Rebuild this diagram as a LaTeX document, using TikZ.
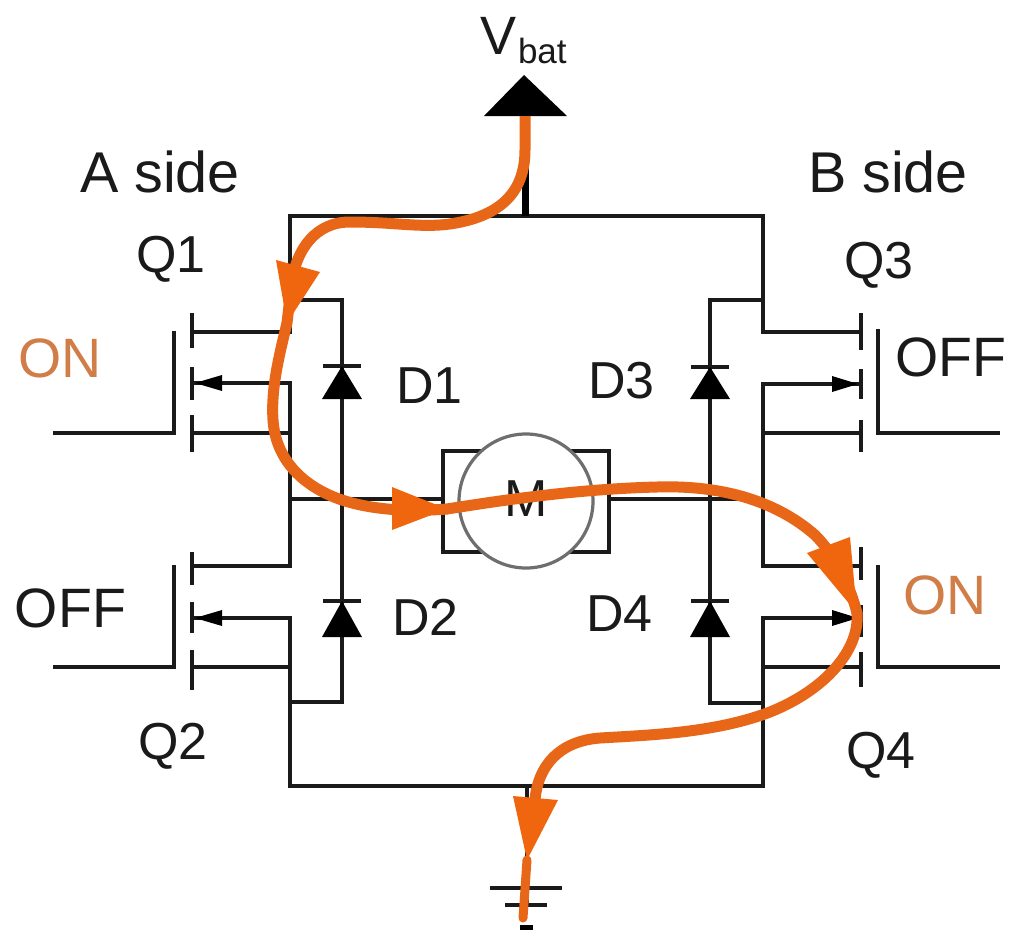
\documentclass[tikz,border=0pt]{standalone}
\usepackage{fontspec}
\setmainfont{Liberation Sans}
\definecolor{flow}{RGB}{232,102,24}
\definecolor{flowhead}{RGB}{240,102,14}
\definecolor{onlabel}{RGB}{208,125,72}
\definecolor{inkc}{RGB}{26,26,26}
\tikzset{
  wire/.style={draw=inkc,line width=3.3pt,line join=miter},
  label/.style={anchor=base west,inner sep=0pt,outer sep=0pt,text=inkc,font=\fontsize{52}{60}\selectfont},
  biglabel/.style={label,font=\fontsize{55.5}{60}\selectfont},
  onlab/.style={biglabel,text=onlabel},
  head/.style={fill=flowhead,draw=none},
  flowpath/.style={draw=flow,line width=11pt,line cap=round},
  solid tip/.style={fill=black,draw=none},
}
\begin{document}
\begin{tikzpicture}[x=1pt,y=-1pt]
\useasboundingbox (0,0) rectangle (1010,930);
\fill[white] (0,0) rectangle (1010,930);
% junction points
\coordinate (TL) at (290,216); \coordinate (TR) at (763,216);
\coordinate (BL) at (290,786); \coordinate (BR) at (763,786);
\coordinate (Vfoot) at (525,116); \coordinate (Vtop) at (525,216);
\coordinate (Gtop) at (527,786); \coordinate (Gend) at (527,905);
\coordinate (Q1d) at (290,332); \coordinate (Q1dc) at (192,332);
\coordinate (Q1s) at (290,383); \coordinate (Q1sc) at (192,383);
\coordinate (Q1b) at (290,433); \coordinate (Q1bc) at (192,433);
\coordinate (Q2d) at (290,566); \coordinate (Q2dc) at (192,566);
\coordinate (Q2s) at (290,618); \coordinate (Q2sc) at (192,618);
\coordinate (Q2b) at (290,667); \coordinate (Q2bc) at (192,667);
\coordinate (Q3d) at (763,332); \coordinate (Q3dc) at (861,332);
\coordinate (Q3s) at (763,384); \coordinate (Q3sc) at (861,384);
\coordinate (Q3b) at (763,433); \coordinate (Q3bc) at (861,433);
\coordinate (Q4d) at (763,566); \coordinate (Q4dc) at (861,566);
\coordinate (Q4s) at (763,618); \coordinate (Q4sc) at (861,618);
\coordinate (Q4b) at (763,667); \coordinate (Q4bc) at (861,667);
\coordinate (L1) at (290,300); \coordinate (L1d) at (342,300);
\coordinate (L2) at (290,702); \coordinate (L2d) at (342,702);
\coordinate (R1) at (763,300); \coordinate (R1d) at (710,300);
\coordinate (R2) at (763,703); \coordinate (R2d) at (710,703);
\coordinate (ML) at (290,499); \coordinate (MR) at (763,499);
% motor
\node[draw=inkc,line width=3.3pt,minimum width=166pt,minimum height=101pt,inner sep=0pt,outer sep=0pt] (mbox) at (526,501.5) {};
\node[circle,draw={rgb,255:red,110;green,110;blue,110},fill=white,line width=3.2pt,minimum size=134pt,inner sep=0pt,outer sep=0pt] (motor) at (526,501) {};
\node[label,anchor=base] (mlabel) at (526,516) {M};
% rails and branches
\draw[wire] (Q1dc) -- (Q1d) -- (TL) -- (TR) -- (Q3d) -- (Q3dc);
\draw[wire] (Q2sc) -- (Q2s) -- (BL) -- (BR) -- (Q4s) -- (Q4sc);
\draw[wire] (Q1sc) -- (Q1s) -- (Q2d) -- (Q2dc);
\draw[wire] (Q3sc) -- (Q3s) -- (Q4d) -- (Q4dc);
\draw[wire] (Q1bc) -- (Q1b);
\draw[wire] (Q2bc) -- (Q2b);
\draw[wire] (Q3bc) -- (Q3b);
\draw[wire] (Q4bc) -- (Q4b);
\draw[wire] (L1) -- (L1d) -- (L2d) -- (L2);
\draw[wire] (R1) -- (R1d) -- (R2d) -- (R2);
\draw[wire] (ML) -- (mbox.west |- ML);
\draw[wire] (mbox.east |- MR) -- (MR);
\draw[draw=black,line width=7pt] (Vfoot) -- (Vtop);
\draw[wire] (Gtop) -- (Gend);
% MOSFET channel segments and gates
\foreach \x/\a/\b in {192/313/348,192/367/400,192/415/452,192/552/585,192/602/633,192/650/690,861/313/350,861/369/399,861/420/452,861/547/580,861/605/637,861/652/687}
  \draw[wire] (\x,\a) -- (\x,\b);
\coordinate (G1a) at (174,331); \coordinate (G1b) at (174,433); \coordinate (G1c) at (53,433);
\coordinate (G2a) at (174,565); \coordinate (G2b) at (174,667); \coordinate (G2c) at (53,667);
\coordinate (G3a) at (878,329); \coordinate (G3b) at (878,433); \coordinate (G3c) at (1000,433);
\coordinate (G4a) at (878,565); \coordinate (G4b) at (878,667); \coordinate (G4c) at (1000,667);
\draw[wire] (G1a) -- (G1b) -- (G1c);
\draw[wire] (G2a) -- (G2b) -- (G2c);
\draw[wire] (G3a) -- (G3b) -- (G3c);
\draw[wire] (G4a) -- (G4b) -- (G4c);
% source arrows
\fill[solid tip] (195,383) -- (222,375) -- (222,391) -- cycle;
\fill[solid tip] (195,618) -- (222,610) -- (222,626) -- cycle;
\fill[solid tip] (858,384) -- (832,376) -- (832,392) -- cycle;
\fill[solid tip] (858,618) -- (832,610) -- (832,626) -- cycle;
% diodes
\foreach \x/\t/\b in {342/366/399,342/601/637,710/367/399,710/601/637}{
  \draw[wire] (\x-19,\t) -- (\x+19,\t);
  \fill[solid tip] (\x,\t) -- (\x+20,\b) -- (\x-20,\b) -- cycle;
}
% supply
\fill[solid tip] (524,75) -- (567,116) -- (484,116) -- cycle;
\draw[wire,line width=3.6pt] (490,888) -- (562,888);
\draw[wire,line width=3.4pt] (505,905) -- (547,905);
\fill[black] (520,925) rectangle (533,930);
% labels
\node[label,font=\fontsize{54}{60}\selectfont] (vv) at (480,54) {V};
\node[label,font=\fontsize{35}{40}\selectfont] (vb) at (518,63) {bat};
\node[biglabel,font=\fontsize{57.5}{60}\selectfont] (aside) at (80,192) {A side};
\node[biglabel,font=\fontsize{57.5}{60}\selectfont] (bside) at (808,192) {B side};
\node[label] (q1) at (136,272) {Q1};
\node[label] (q2) at (138,759) {Q2};
\node[label] (q3) at (844,278) {Q3};
\node[label] (q4) at (846,768) {Q4};
\node[label] (d1) at (396,403) {D1};
\node[label] (d2) at (392,635) {D2};
\node[label] (d3) at (588,398) {D3};
\node[label] (d4) at (586,631) {D4};
\node[onlab] (on1) at (18,377) {ON};
\node[biglabel] (off1) at (15,627) {OFF};
\node[biglabel] (off2) at (895,376) {OFF};
\node[onlab] (on2) at (903,614) {ON};
% current path
\coordinate (F0) at (525,116);
\coordinate (H1) at (287,323);
\coordinate (H2) at (447,509);
\coordinate (H3) at (857,613);
\coordinate (H4) at (527,860);
\coordinate (F5) at (523,918);
\draw[flowpath,line cap=butt] (F0) -- (525,150) .. controls (525,195) and (497,217) .. (450,224)
  .. controls (420,228) and (395,222) .. (350,222)
  .. controls (315,222) and (297,250) .. (292,280) -- (H1);
\draw[flowpath] (H1) .. controls (278,360) and (271,390) .. (273,420)
  .. controls (276,465) and (310,490) .. (345,501)
  .. controls (375,510) and (410,512) .. (H2);
\draw[flowpath] (H2) .. controls (510,499) and (580,489) .. (657,487)
  .. controls (720,485) and (775,500) .. (815,535)
  .. controls (835,555) and (850,585) .. (H3);
\draw[flowpath] (H3) .. controls (860,650) and (825,690) .. (770,712)
  .. controls (715,733) and (650,735) .. (600,738)
  .. controls (560,741) and (538,765) .. (535,800);
\draw[flowpath,line width=9pt] (H4) -- (F5);
\fill[head] (276,260) -- (320,272) -- (H1) -- cycle;
\fill[head] (392,487) -- (H2) -- (392,530) -- cycle;
\fill[head] (807,553) -- (850,537) -- (H3) -- cycle;
\fill[head] (513,796) -- (558,800) -- (H4) -- cycle;
\end{tikzpicture}
\end{document}
